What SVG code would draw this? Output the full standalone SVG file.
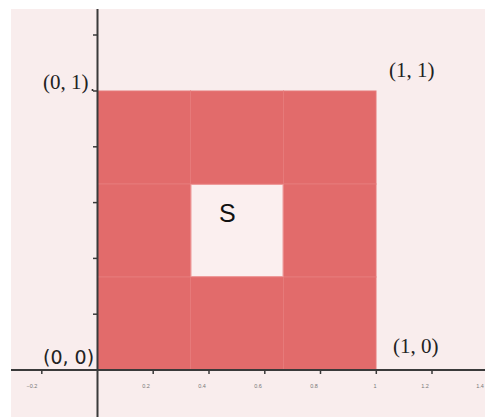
<svg xmlns="http://www.w3.org/2000/svg" width="485" height="417" viewBox="0 0 485 417">
<style>
.cell{fill:#e26b6b;stroke:#e67a7a;stroke-width:1}
.hole{fill:#fbefef;stroke:#ee9a9a;stroke-width:1}
.axis{stroke:#3a3a3a;stroke-width:2;fill:none}
.tick{stroke:#3a3a3a;stroke-width:1.5}
.tl{font-family:"Liberation Sans",Arial,sans-serif;font-size:5.5px;fill:#777;text-anchor:middle}
.lab{font-family:"Liberation Serif","DejaVu Serif",serif;font-size:21px;fill:#222}
</style>
<rect x="0" y="0" width="485" height="417" fill="#ffffff"/>
<rect x="11" y="9" width="474" height="408" fill="#f9eded"/>
<g id="region">
<rect class="cell" x="97.5" y="91" width="93" height="93"/>
<rect class="cell" x="190.5" y="91" width="93" height="93"/>
<rect class="cell" x="283.5" y="91" width="92.5" height="93"/>
<rect class="cell" x="97.5" y="184" width="93" height="93"/>
<rect class="cell" x="283.5" y="184" width="92.5" height="93"/>
<rect class="cell" x="97.5" y="277" width="93" height="93"/>
<rect class="cell" x="190.5" y="277" width="93" height="93"/>
<rect class="cell" x="283.5" y="277" width="92.5" height="93"/>
</g>
<g id="hole">
<rect class="hole" x="191" y="184.5" width="92" height="92"/>
<text x="219" y="222" font-family="Liberation Sans,Arial,sans-serif" font-size="25" fill="#111">S</text>
</g>
<g id="axes">
<line class="axis" x1="11" y1="370" x2="485" y2="370"/>
<line class="axis" x1="97.5" y1="9" x2="97.5" y2="417"/>
<g class="tick">
<line x1="41.8" y1="370" x2="41.8" y2="374"/>
<line x1="153.2" y1="370" x2="153.2" y2="374"/>
<line x1="209" y1="370" x2="209" y2="374"/>
<line x1="264.8" y1="370" x2="264.8" y2="374"/>
<line x1="320.5" y1="370" x2="320.5" y2="374"/>
<line x1="376.3" y1="370" x2="376.3" y2="374"/>
<line x1="432" y1="370" x2="432" y2="374"/>
<line x1="93" y1="35" x2="97.5" y2="35"/>
<line x1="93" y1="91" x2="97.5" y2="91"/>
<line x1="93" y1="146.8" x2="97.5" y2="146.8"/>
<line x1="93" y1="202.6" x2="97.5" y2="202.6"/>
<line x1="93" y1="258.4" x2="97.5" y2="258.4"/>
<line x1="93" y1="314.2" x2="97.5" y2="314.2"/>
</g>
<text class="tl" x="32" y="388">−0.2</text>
<text class="tl" x="146" y="388">0.2</text>
<text class="tl" x="202" y="388">0.4</text>
<text class="tl" x="258" y="388">0.6</text>
<text class="tl" x="314" y="388">0.8</text>
<text class="tl" x="375" y="388">1</text>
<text class="tl" x="425" y="388">1.2</text>
<text class="tl" x="480" y="388">1.4</text>
</g>
<g id="labels">
<text class="lab" x="43" y="89">(0, 1)</text>
<circle cx="92.5" cy="90" r="1" fill="#222"/>
<text class="lab" x="389" y="77">(1, 1)</text>
<text x="43" y="364" font-family="DejaVu Sans,Liberation Sans,sans-serif" font-size="19" fill="#222">(0, 0)</text>
<text class="lab" x="393" y="353">(1, 0)</text>
</g>
</svg>
